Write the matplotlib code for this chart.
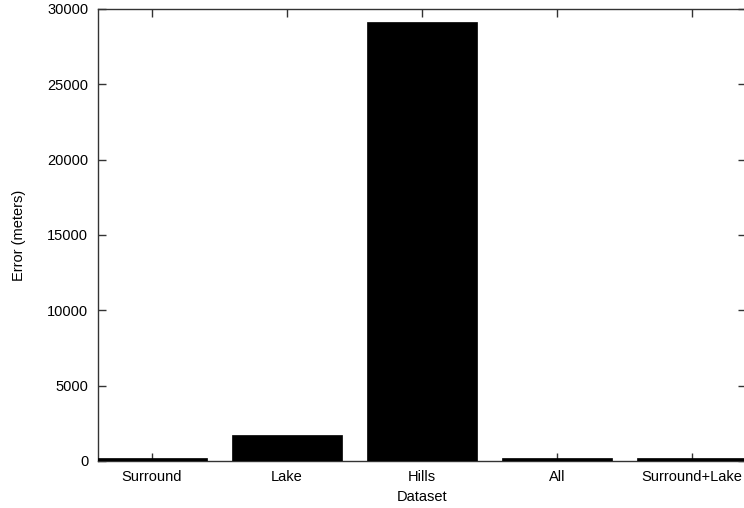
import matplotlib
matplotlib.use('Agg')
import numpy as np
from matplotlib import pyplot as plt

plt.rcParams['font.family'] = ['Liberation Sans', 'DejaVu Sans']

datasets = ['Surround', 'Lake', 'Hills', 'All', 'Surround+Lake']
errors = [220, 1750, 29150, 220, 220]
yticks = [0, 5000, 10000, 15000, 20000, 25000, 30000]

fig = plt.figure(figsize=(7.44, 5.08), dpi=100)
W, H = 744.0, 508.0
# plot frame in pixels: left 98, right ~746 (just off image), top 9, bottom 461
ax = fig.add_axes([98 / W, (H - 461) / H, (746 - 98) / W, (461 - 9) / H])

x = np.arange(len(datasets))
ax.bar(x, errors, width=0.81, color='black', edgecolor='black', linewidth=0.5, zorder=3)

ax.set_xlim(-0.4, 4.4)
ax.set_ylim(0, 30000)
ax.set_xticks(x)
ax.set_xticklabels(datasets)
ax.set_yticks(yticks)

for s in ax.spines.values():
    s.set_color('#333333')
    s.set_linewidth(1.0)

ax.tick_params(axis='both', direction='in', length=6, width=1, color='#333333',
               top=True, right=True, labelsize=10.5, pad=7)
ax.tick_params(axis='x', pad=6.5)

ax.set_xlabel('Dataset', fontsize=10.5, va='center')
ax.set_ylabel('Error (meters)', fontsize=10.5, va='center')
ax.xaxis.set_label_coords((422 - 98) / 648, (461 - 497) / 452)
ax.yaxis.set_label_coords((19 - 98) / 648, 0.5)

fig.savefig('out.png', dpi=100)
